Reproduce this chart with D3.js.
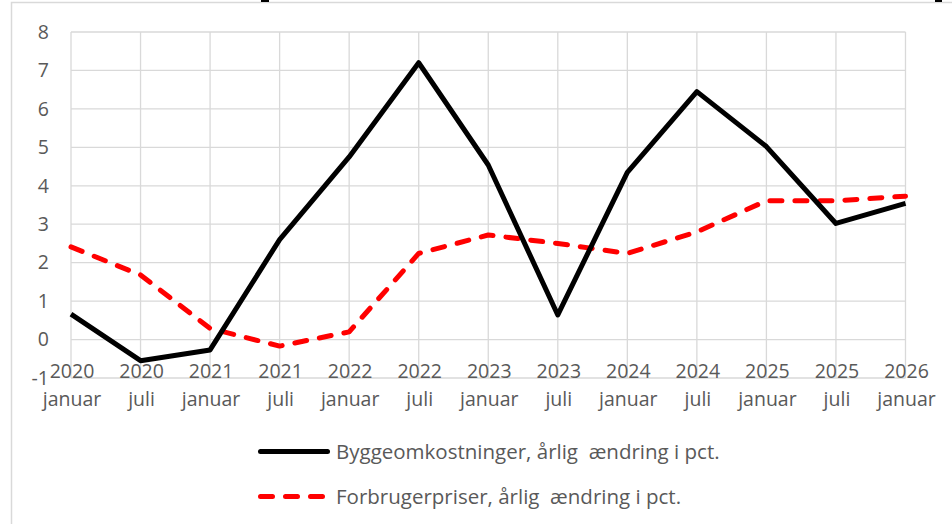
<!DOCTYPE html>
<html>
<head>
<meta charset="utf-8">
<script src="https://cdn.jsdelivr.net/npm/d3@7"></script>
<style>
  html, body { margin: 0; padding: 0; background: #fff; }
  svg { display: block; }
  text { font-family: "Open Sans", "Liberation Sans", sans-serif; fill: #595959; white-space: pre; }
</style>
</head>
<body>
<svg id="chart" width="952" height="524"></svg>
<script>
const years = ["2020","2020","2021","2021","2022","2022","2023","2023","2024","2024","2025","2025","2026"];
const months = ["januar","juli","januar","juli","januar","juli","januar","juli","januar","juli","januar","juli","januar"];
const byggeomkostninger = [0.66, -0.55, -0.27, 2.6, 4.75, 7.2, 4.54, 0.64, 4.35, 6.45, 5.02, 3.02, 3.54];
const forbrugerpriser = [2.41, 1.68, 0.29, -0.17, 0.2, 2.24, 2.72, 2.5, 2.24, 2.8, 3.61, 3.61, 3.73];
const yTicks = [-1, 0, 1, 2, 3, 4, 5, 6, 7, 8];
const seriesNames = ["Byggeomkostninger, årlig  ændring i pct.", "Forbrugerpriser, årlig  ændring i pct."];

const svg = d3.select("#chart");
const W = 952, H = 524;
const plot = { left: 71, right: 905.5, top: 32, bottom: 378 };

// outer frame (chart area border, cut by the window at right/bottom)
svg.append("path")
  .attr("d", `M11.5,${H} L11.5,2.5 L${W},2.5`)
  .attr("fill", "none").attr("stroke", "#d9d9d9").attr("stroke-width", 1.5);
// fragments of cut-off text above the frame
svg.append("rect").attr("x", 261).attr("y", 0).attr("width", 8).attr("height", 2).attr("fill", "#000");
svg.append("rect").attr("x", 935).attr("y", 0).attr("width", 7).attr("height", 2).attr("fill", "#000");

const idx = d3.range(years.length);
const x = d3.scaleLinear().domain([0, years.length - 1]).range([plot.left, plot.right]);
const y = d3.scaleLinear().domain([-1, 8]).range([plot.bottom, plot.top]);

// horizontal gridlines
const gy = svg.append("g");
gy.selectAll("line").data(yTicks).join("line")
  .attr("x1", plot.left).attr("x2", plot.right)
  .attr("y1", d => y(d)).attr("y2", d => y(d))
  .attr("stroke", "#d9d9d9").attr("stroke-width", 1.3);
// vertical gridlines
const gx = svg.append("g");
gx.selectAll("line").data(idx).join("line")
  .attr("x1", d => x(d)).attr("x2", d => x(d))
  .attr("y1", plot.top).attr("y2", plot.bottom)
  .attr("stroke", "#d9d9d9").attr("stroke-width", 1.3);

// y-axis labels
const yAxis = d3.axisLeft(y).tickValues(yTicks).tickSize(0).tickPadding(0).tickFormat(d => String(d));
const ya = svg.append("g").attr("transform", "translate(49,0)").call(yAxis);
ya.select(".domain").remove();
ya.selectAll("text").attr("font-size", 19.5).attr("fill", "#595959")
  .style("font-family", '"Open Sans", "Liberation Sans", sans-serif');

// x-axis labels (two lines)
const xl = svg.append("g");
xl.selectAll("text.yr").data(idx).join("text").attr("class", "yr")
  .attr("x", d => x(d) + 1).attr("y", 378).attr("text-anchor", "middle")
  .attr("font-size", 19.5).text(d => years[d]);
xl.selectAll("text.mo").data(idx).join("text").attr("class", "mo")
  .attr("x", d => x(d) + 1).attr("y", 406).attr("text-anchor", "middle")
  .attr("font-size", 19.5).text(d => months[d]);

// lines
const line = d3.line().x((d, i) => x(i)).y(d => y(d));
svg.append("path").datum(forbrugerpriser)
  .attr("d", line).attr("fill", "none").attr("stroke", "#ff0000")
  .attr("stroke-width", 5).attr("stroke-dasharray", "12,13").attr("stroke-linecap", "round")
  .attr("stroke-linejoin", "round");
svg.append("path").datum(byggeomkostninger)
  .attr("d", line).attr("fill", "none").attr("stroke", "#000000")
  .attr("stroke-width", 5).attr("stroke-linejoin", "round");

// legend
const lg = svg.append("g");
lg.append("line").attr("x1", 260.5).attr("x2", 327.5).attr("y1", 451.5).attr("y2", 451.5)
  .attr("stroke", "#000").attr("stroke-width", 5).attr("stroke-linecap", "round");
lg.append("line").attr("x1", 260.5).attr("x2", 327.5).attr("y1", 496.5).attr("y2", 496.5)
  .attr("stroke", "#ff0000").attr("stroke-width", 5).attr("stroke-linecap", "round")
  .attr("stroke-dasharray", "12,13");
lg.append("text").attr("x", 336).attr("y", 458.5).attr("font-size", 20.5).text(seriesNames[0]);
lg.append("text").attr("x", 336).attr("y", 503.5).attr("font-size", 20.5).text(seriesNames[1]);
</script>
</body>
</html>
